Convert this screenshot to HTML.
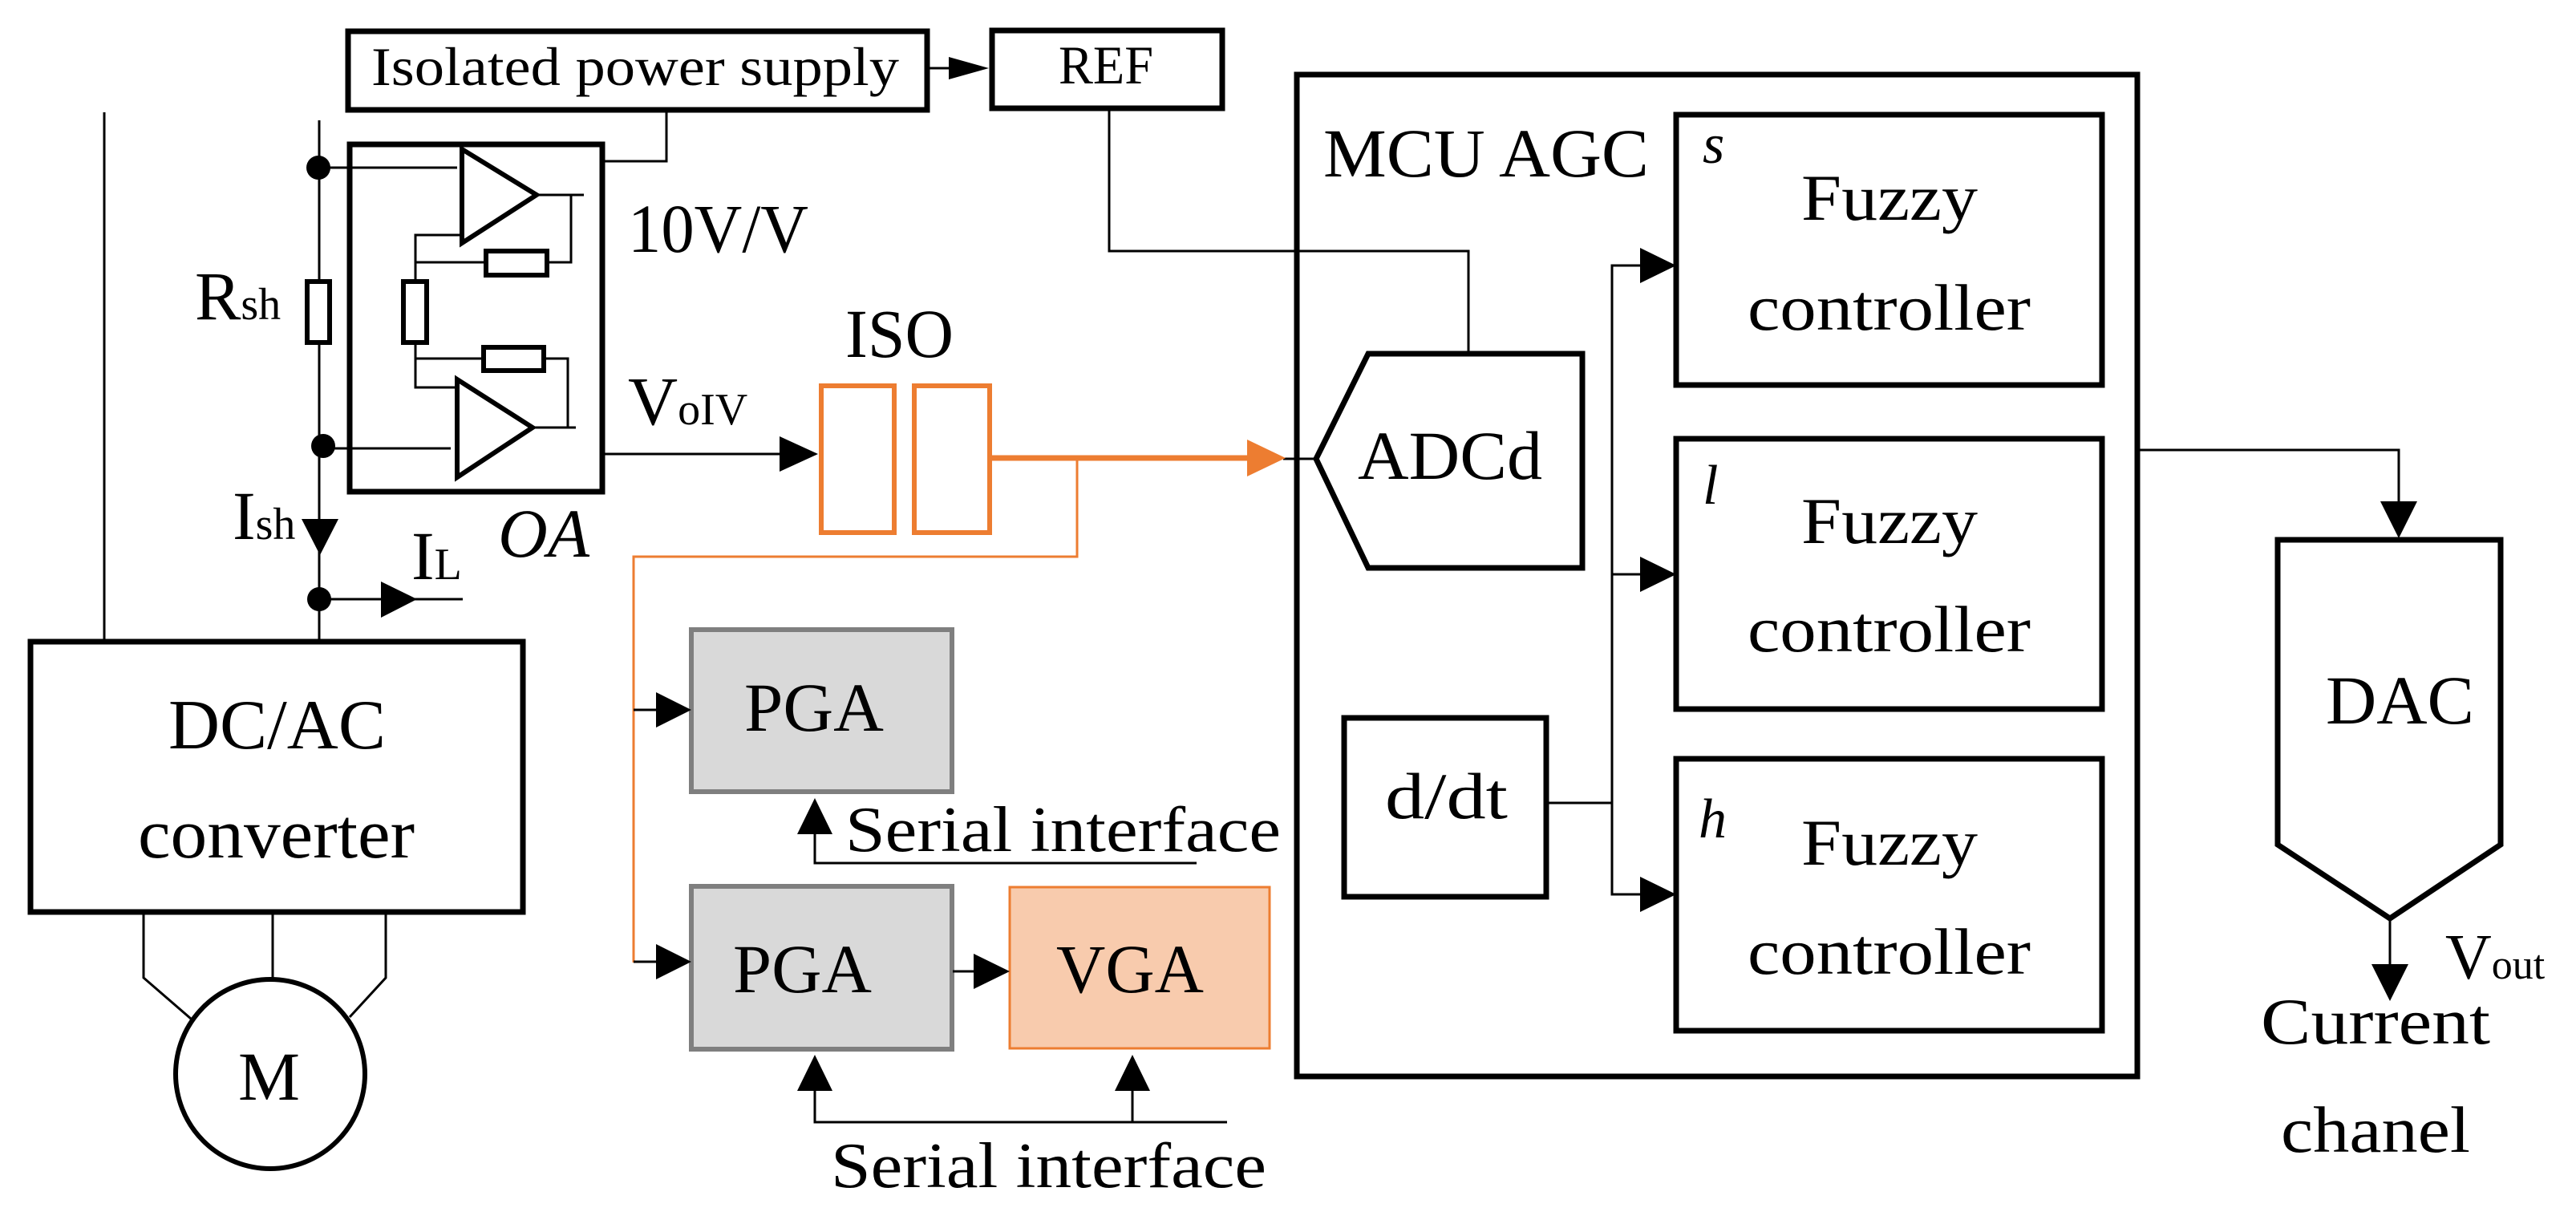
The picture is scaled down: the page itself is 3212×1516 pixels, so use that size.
<!DOCTYPE html>
<html><head><meta charset="utf-8"><style>
html,body{margin:0;padding:0;background:#fff;}
svg{display:block;}
text{font-family:"Liberation Serif",serif;fill:#000;}
</style></head><body>
<svg width="3212" height="1516" viewBox="0 0 3212 1516" xmlns="http://www.w3.org/2000/svg">
<defs>
<marker id="ah" markerWidth="10" markerHeight="10" refX="10" refY="5" orient="auto" markerUnits="userSpaceOnUse"/>
</defs>
<g fill="none" stroke="#000" stroke-width="3">
<!-- Isolated power supply -->
<rect x="434" y="39" width="722" height="98" stroke-width="7"/>
<line x1="1156" y1="85" x2="1185" y2="85"/>
<rect x="1237" y="38" width="287" height="97" stroke-width="7"/>
<!-- left vertical -->
<line x1="130" y1="140" x2="130" y2="800"/>
<line x1="398" y1="150" x2="398" y2="800"/>
<rect x="383" y="351" width="28" height="76" stroke-width="6" fill="#fff"/>
<!-- OA box -->
<rect x="436" y="180" width="315" height="433" stroke-width="7"/>
<polyline points="831,137 831,201 751,201"/>
<!-- op amps -->
<polygon points="576,186 669,243 576,303" stroke-width="6"/>
<polygon points="570,473 664,533 570,595" stroke-width="6"/>
<line x1="398" y1="209" x2="570" y2="209"/>
<line x1="403" y1="559" x2="562" y2="559"/>
<line x1="669" y1="243" x2="728" y2="243"/>
<polyline points="712,243 712,327 683,327"/>
<rect x="606" y="313" width="76" height="30" stroke-width="6"/>
<line x1="518" y1="327" x2="606" y2="327"/>
<polyline points="576,293 518,293 518,351"/>
<rect x="503" y="351" width="29" height="76" stroke-width="6"/>
<polyline points="518,427 518,483 570,483"/>
<line x1="518" y1="447" x2="603" y2="447"/>
<rect x="603" y="433" width="75" height="29" stroke-width="6"/>
<polyline points="678,447 708,447 708,533"/>
<line x1="664" y1="533" x2="718" y2="533"/>
<!-- VoIV output -->
<line x1="751" y1="566" x2="975" y2="566"/>
<!-- IL -->
<line x1="398" y1="747" x2="577" y2="747"/>
<!-- DC/AC -->
<rect x="38" y="800" width="614" height="337" stroke-width="7"/>
<polyline points="179,1137 179,1219 238,1270"/>
<line x1="340" y1="1137" x2="340" y2="1221"/>
<polyline points="481,1137 481,1219 436,1268"/>
<circle cx="337" cy="1339" r="118" stroke-width="6"/>
<!-- ISO -->
<rect x="1024" y="481" width="91" height="183" stroke="#ed7d31" stroke-width="6"/>
<rect x="1140" y="481" width="94" height="183" stroke="#ed7d31" stroke-width="6"/>
<line x1="1234" y1="571" x2="1560" y2="571" stroke="#ed7d31" stroke-width="7"/>
<polyline points="1343,571 1343,694 790,694 790,1200" stroke="#ed7d31" stroke-width="3"/>
<line x1="1600" y1="572" x2="1642" y2="572"/>
<line x1="790" y1="885" x2="830" y2="885"/>
<line x1="790" y1="1199" x2="830" y2="1199"/>
<!-- PGA / VGA -->
<rect x="862" y="785" width="325" height="202" fill="#d9d9d9" stroke="#7f7f7f" stroke-width="6"/>
<rect x="862" y="1105" width="325" height="203" fill="#d9d9d9" stroke="#7f7f7f" stroke-width="6"/>
<rect x="1259" y="1106" width="324" height="201" fill="#f8cbad" stroke="#ed7d31" stroke-width="3"/>
<line x1="1188" y1="1211" x2="1225" y2="1211"/>
<polyline points="1016,1030 1016,1076 1492,1076"/>
<polyline points="1016,1350 1016,1399 1530,1399"/>
<line x1="1412" y1="1350" x2="1412" y2="1399"/>
<!-- MCU -->
<rect x="1617" y="93" width="1048" height="1249" stroke-width="7"/>
<polyline points="1383,135 1383,313 1831,313 1831,441"/>
<polygon points="1706,441 1973,441 1973,708 1706,708 1641,572" stroke-width="7"/>
<rect x="2090" y="143" width="531" height="337" stroke-width="7"/>
<rect x="2090" y="547" width="531" height="337" stroke-width="7"/>
<rect x="2090" y="946" width="531" height="339" stroke-width="7"/>
<rect x="1676" y="895" width="252" height="223" stroke-width="7"/>
<line x1="1928" y1="1001" x2="2010" y2="1001"/>
<polyline points="2050,331 2010,331 2010,1115 2050,1115"/>
<line x1="2010" y1="716" x2="2050" y2="716"/>
<!-- DAC -->
<polyline points="2665,561 2991,561 2991,630"/>
<polygon points="2840,673 3118,673 3118,1053 2980,1145 2840,1053" stroke-width="7"/>
<line x1="2980" y1="1145" x2="2980" y2="1210"/>
</g>
<!-- arrowheads & dots -->
<g fill="#000" stroke="none">
<polygon points="1183,71 1233,85 1183,99"/>
<circle cx="397" cy="209" r="15"/>
<circle cx="403" cy="556" r="15"/>
<circle cx="398" cy="747" r="15"/>
<polygon points="376,647 422,647 399,692"/>
<polygon points="475,725 520,747 475,770"/>
<polygon points="972,544 1020,566 972,588"/>
<polygon points="1555,548 1603,571 1555,594" fill="#ed7d31"/>
<polygon points="818,863 862,885 818,907"/>
<polygon points="818,1177 862,1199 818,1221"/>
<polygon points="1214,1189 1259,1211 1214,1233"/>
<polygon points="994,1040 1016,995 1038,1040"/>
<polygon points="994,1360 1016,1315 1038,1360"/>
<polygon points="1390,1360 1412,1315 1434,1360"/>
<polygon points="2045,309 2090,331 2045,353"/>
<polygon points="2045,694 2090,716 2045,738"/>
<polygon points="2045,1093 2090,1115 2045,1137"/>
<polygon points="2968,625 3014,625 2991,671"/>
<polygon points="2957,1202 3003,1202 2980,1248"/>
</g>
<!-- text -->
<text x="463" y="106" font-size="68" textLength="658" lengthAdjust="spacingAndGlyphs">Isolated power supply</text>
<text x="1320" y="104" font-size="68" textLength="118" lengthAdjust="spacingAndGlyphs">REF</text>
<text x="783" y="314" font-size="86" textLength="225" lengthAdjust="spacingAndGlyphs">10V/V</text>
<text x="243" y="398" font-size="86">R<tspan font-size="56">sh</tspan></text>
<text x="783" y="529" font-size="86">V<tspan font-size="56">oIV</tspan></text>
<text x="1054" y="445" font-size="86" textLength="135" lengthAdjust="spacingAndGlyphs">ISO</text>
<text x="621" y="694" font-size="86" font-style="italic" textLength="114" lengthAdjust="spacingAndGlyphs">OA</text>
<text x="290" y="672" font-size="86">I<tspan font-size="56">sh</tspan></text>
<text x="513" y="722" font-size="86">I<tspan font-size="56">L</tspan></text>
<text x="210" y="933" font-size="88" textLength="271" lengthAdjust="spacingAndGlyphs">DC/AC</text>
<text x="172" y="1069" font-size="88" textLength="345" lengthAdjust="spacingAndGlyphs">converter</text>
<text x="297" y="1371" font-size="86" textLength="77" lengthAdjust="spacingAndGlyphs">M</text>
<text x="928" y="911" font-size="86" textLength="174" lengthAdjust="spacingAndGlyphs">PGA</text>
<text x="914" y="1237" font-size="86" textLength="173" lengthAdjust="spacingAndGlyphs">PGA</text>
<text x="1317" y="1237" font-size="86" textLength="184" lengthAdjust="spacingAndGlyphs">VGA</text>
<text x="1054" y="1061" font-size="80" textLength="543" lengthAdjust="spacingAndGlyphs">Serial interface</text>
<text x="1036" y="1480" font-size="80" textLength="543" lengthAdjust="spacingAndGlyphs">Serial interface</text>
<text x="1650" y="220" font-size="86" textLength="406" lengthAdjust="spacingAndGlyphs">MCU AGC</text>
<text x="1693" y="597" font-size="86" textLength="230" lengthAdjust="spacingAndGlyphs">ADCd</text>
<text x="1727" y="1020" font-size="82" textLength="153" lengthAdjust="spacingAndGlyphs">d/dt</text>
<text x="2123" y="203" font-size="70" font-style="italic">s</text>
<text x="2123" y="628" font-size="70" font-style="italic">l</text>
<text x="2118" y="1044" font-size="70" font-style="italic">h</text>
<text x="2246" y="274" font-size="82" textLength="220" lengthAdjust="spacingAndGlyphs">Fuzzy</text>
<text x="2179" y="411" font-size="82" textLength="353" lengthAdjust="spacingAndGlyphs">controller</text>
<text x="2246" y="677" font-size="82" textLength="220" lengthAdjust="spacingAndGlyphs">Fuzzy</text>
<text x="2179" y="812" font-size="82" textLength="353" lengthAdjust="spacingAndGlyphs">controller</text>
<text x="2246" y="1078" font-size="82" textLength="220" lengthAdjust="spacingAndGlyphs">Fuzzy</text>
<text x="2179" y="1214" font-size="82" textLength="353" lengthAdjust="spacingAndGlyphs">controller</text>
<text x="2900" y="902" font-size="86" textLength="185" lengthAdjust="spacingAndGlyphs">DAC</text>
<text x="3049" y="1220" font-size="80">V<tspan font-size="52">out</tspan></text>
<text x="2819" y="1301" font-size="82" textLength="286" lengthAdjust="spacingAndGlyphs">Current</text>
<text x="2844" y="1436" font-size="82" textLength="236" lengthAdjust="spacingAndGlyphs">chanel</text>
</svg>
</body></html>
